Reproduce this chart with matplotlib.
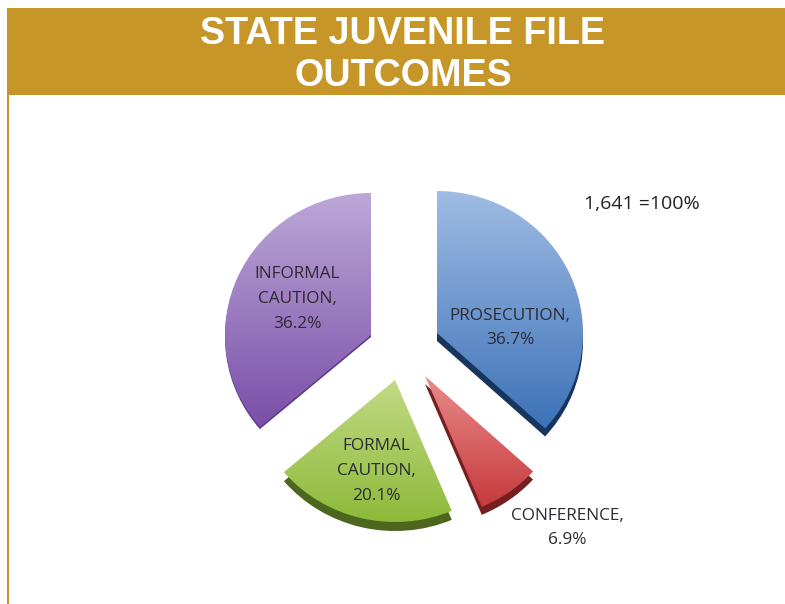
import numpy as np
import matplotlib
matplotlib.use("Agg")
import matplotlib.pyplot as plt
from matplotlib.colors import LinearSegmentedColormap
from matplotlib.patches import Rectangle

W, H = 785, 604
categories = ["PROSECUTION", "CONFERENCE", "FORMAL\nCAUTION", "INFORMAL\nCAUTION"]
shares = [36.7, 6.9, 20.1, 36.2]
title = "STATE JUVENILE FILE\nOUTCOMES"
total_note = "1,641 =100%"

YS = 142 / 146.0  # flattening of the tilted pie
def Y(py):
    return (H - py) / YS

apex = [(437, 333), (425, 376), (395, 380), (371, 335)]
top_col = ["#a0bce4", "#ea8a8c", "#c2da84", "#bda9d8"]
bot_col = ["#3c72b8", "#c63a3c", "#8dba3a", "#7a4ea8"]
side_col = ["#17355f", "#74201f", "#4c661e", "#5a3a86"]
depth = [8, 8, 9, 2]
label_xy = [(510, 328), (567, 528), (376, 471), (297, 299)]

fig = plt.figure(figsize=(W / 100, H / 100), dpi=100)
ax = fig.add_axes([0, 0, 1, 1])
R = 146

def make_pie():
    wedges, _ = ax.pie(shares, startangle=90, counterclock=False, radius=R,
                       center=(0, 0), frame=True)
    return wedges

# side of the pie, then the gradient-filled top faces
for wedge_set, layer in ((make_pie(), "side"), (make_pie(), "top")):
    for i, w in enumerate(wedge_set):
        x0, y0 = apex[i]
        if layer == "side":
            w.set_center((x0, Y(y0 + depth[i])))
            w.set_facecolor(side_col[i])
            w.set_edgecolor("none")
            w.set_zorder(1)
        else:
            w.set_center((x0, Y(y0)))
            w.set_facecolor("none")
            w.set_edgecolor("none")
            w.set_zorder(2)
            cmap = LinearSegmentedColormap.from_list("g", [top_col[i], bot_col[i]])
            bb = w.get_path().get_extents(w.get_patch_transform())
            grad = np.linspace(0, 1, 256).reshape(-1, 1)
            im = ax.imshow(grad, cmap=cmap, origin="upper", aspect="auto", zorder=2,
                           extent=(bb.x0, bb.x1, bb.y0, bb.y1))
            im.set_clip_path(w)

ax.set_xlim(0, W)
ax.set_ylim(0, H / YS)
ax.set_aspect("auto")
ax.axis("off")

gold = "#c69629"
ax.add_patch(Rectangle((7, Y(95)), W - 7, Y(8) - Y(95), fc=gold, ec="none", zorder=3))
ax.add_patch(Rectangle((7, Y(H)), 2, Y(95) - Y(H), fc=gold, ec="none", zorder=3))

ax.text(403, Y(55), title, color="white", ha="center", va="center", fontsize=27.2,
        fontweight="bold", family="Liberation Sans", linespacing=1.24, zorder=4)

txt = dict(color="#2b2b33", family="Open Sans", fontsize=12.4, ha="center",
           va="center", linespacing=1.72, zorder=5)
for i, c in enumerate(categories):
    ax.text(label_xy[i][0], Y(label_xy[i][1]), f"{c},\n{shares[i]}%", **txt)
ax.text(642, Y(204), total_note, **{**txt, "color": "#222222", "fontsize": 14})

fig.savefig("out.png", dpi=100)
